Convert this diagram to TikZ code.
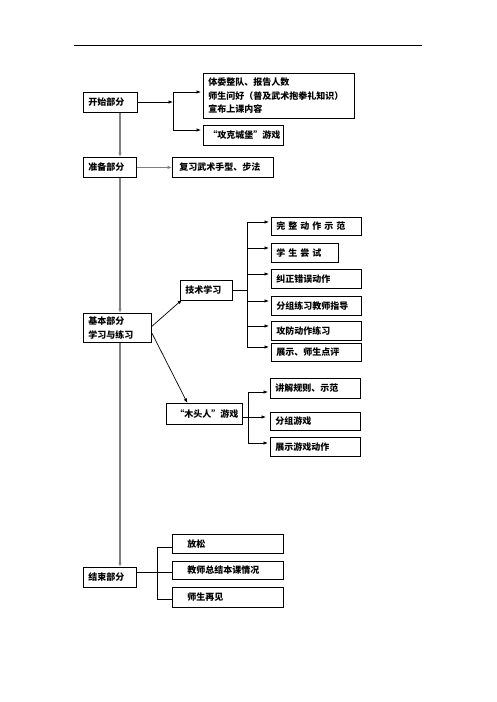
\documentclass[tikz,border=0pt]{standalone}
\usepackage{fontspec}
\newfontfamily\cjk{Noto Sans CJK SC}
\usetikzlibrary{arrows.meta}
\begin{document}
\begin{tikzpicture}[x=1pt,y=-1pt,
  box/.style={draw, line width=0.8pt, anchor=north west, inner xsep=5pt, inner ysep=0pt,
    align=left, font=\cjk\bfseries\fontsize{9}{13.5}\selectfont},
  ln/.style={line width=0.7pt},
  arr/.style={ln, -{Latex[length=4.5pt,width=3.5pt]}},
  gl/.style={line width=1.5pt, draw=black!50},
  garr/.style={gl, -{Latex[length=4.5pt,width=3.5pt]}}]
\useasboundingbox (0,0) rectangle (496,702);
% top rule
\coordinate (r1) at (74,45);
\coordinate (r2) at (422,45);
\draw[line width=0.8pt] (r1) -- (r2);

% boxes
\node[box, text width=44pt, minimum height=20pt] (kaishi) at (83,92) {开始部分};
\node[box, text width=141pt, minimum height=45pt] (b1) at (203,73) {体委整队、报告人数\\师生问好（普及武术抱拳礼知识）\\宣布上课内容};
\node[box, text width=70pt, minimum height=20pt] (b2) at (203,125) {“攻克城堡”游戏};
\node[box, text width=43pt, minimum height=20pt] (zhunbei) at (83,157) {准备部分};
\node[box, inner xsep=7pt, text width=87pt, minimum height=20pt] (fuxi) at (172,157) {复习武术手型、步法};
\node[box, text width=58pt, minimum height=29pt] (jiben) at (83,313) {基本部分\\学习与练习};
\node[box, text width=42pt, minimum height=20pt] (jishu) at (180,280) {技术学习};
\node[box, text width=80pt, minimum height=18pt] (t1) at (271,217) {完 整 动 作 示 范};
\node[box, text width=57pt, minimum height=19pt] (t2) at (271,243) {学 生 尝 试};
\node[box, text width=80pt, minimum height=19pt] (t3) at (271,269) {纠正错误动作};
\node[box, text width=80pt, minimum height=19pt] (t4) at (271,296) {分组练习教师指导};
\node[box, text width=80pt, minimum height=19pt] (t5) at (271,321) {攻防动作练习};
\node[box, text width=80pt, minimum height=18pt] (t6) at (271,343) {展示、师生点评};
\node[box, inner xsep=9pt, text width=58pt, minimum height=21pt] (mutou) at (166,403) {“木头人”游戏};
\node[box, text width=80pt, minimum height=20pt] (g1) at (270,378) {讲解规则、示范};
\node[box, text width=80pt, minimum height=18pt] (g2) at (270,412) {分组游戏};
\node[box, text width=80pt, minimum height=19pt] (g3) at (270,437) {展示游戏动作};
\node[box, text width=43pt, minimum height=20pt] (jieshu) at (83,567) {结束部分};
\node[box, inner xsep=15pt, text width=81pt, minimum height=19pt] (e1) at (172,534) {放松};
\node[box, inner xsep=15pt, text width=81pt, minimum height=18pt] (e2) at (172,561) {教师总结本课情况};
\node[box, inner xsep=15pt, text width=81pt, minimum height=20pt] (e3) at (172,587) {师生再见};

% start section bracket
\coordinate (k0) at (173,102);
\coordinate (k1) at (173,92);
\coordinate (k2) at (173,130);
\draw[arr] (kaishi.east |- k0) -- (k0);
\draw[ln] (k1) -- (k2);
\draw[arr] (k1) -- ([xshift=-2pt]b1.west |- k1);
\draw[arr] (k2) -- ([xshift=-2pt]b2.west |- k2);

% main gray spine
\coordinate (s0) at (120,0);
\draw[garr] (kaishi.south -| s0) -- (zhunbei.north -| s0);
\draw[garr] (zhunbei.east) -- (fuxi.west);
\draw[garr] (zhunbei.south -| s0) -- (jiben.north -| s0);
\draw[garr] (jiben.south -| s0) -- (jieshu.north -| s0);

% basic section
\draw[arr] ([yshift=1.5pt]jiben.east) -- ([xshift=2pt,yshift=1pt]jishu.south west);
\draw[arr] ([yshift=-5pt]jiben.east) -- ([xshift=-17pt]mutou.north);

\coordinate (j0) at (247,290);
\coordinate (j1) at (247,222);
\coordinate (j2) at (247,248);
\coordinate (j3) at (247,274);
\coordinate (j4) at (247,301);
\coordinate (j5) at (247,326);
\coordinate (j6) at (247,347);
\draw[ln] (jishu.east |- j0) -- (j0);
\draw[ln] (j1) -- (j6);
\foreach \c/\t in {j1/t1,j2/t2,j3/t3,j4/t4,j5/t5,j6/t6}
  \draw[arr] (\c) -- ([xshift=-2pt]\t.west |- \c);

\coordinate (m1) at (248,392);
\coordinate (m2) at (248,417);
\coordinate (m3) at (248,443);
\draw[arr] (mutou.east |- m2) -- ([xshift=-4pt]g2.west |- m2);
\draw[ln] (m1) -- (m3);
\draw[arr] (m1) -- ([xshift=-2pt]g1.west |- m1);
\draw[arr] (m3) -- ([xshift=-2pt]g3.west |- m3);

% end section
\coordinate (n0) at (157,572);
\coordinate (n1) at (157,547);
\coordinate (n3) at (157,599);
\draw[ln] (jieshu.east |- n0) -- (e2.west |- n0);
\draw[ln] (n1) -- (n3);
\draw[ln] (n1) -- (e1.west |- n1);
\draw[ln] (n3) -- (e3.west |- n3);
\end{tikzpicture}
\end{document}
